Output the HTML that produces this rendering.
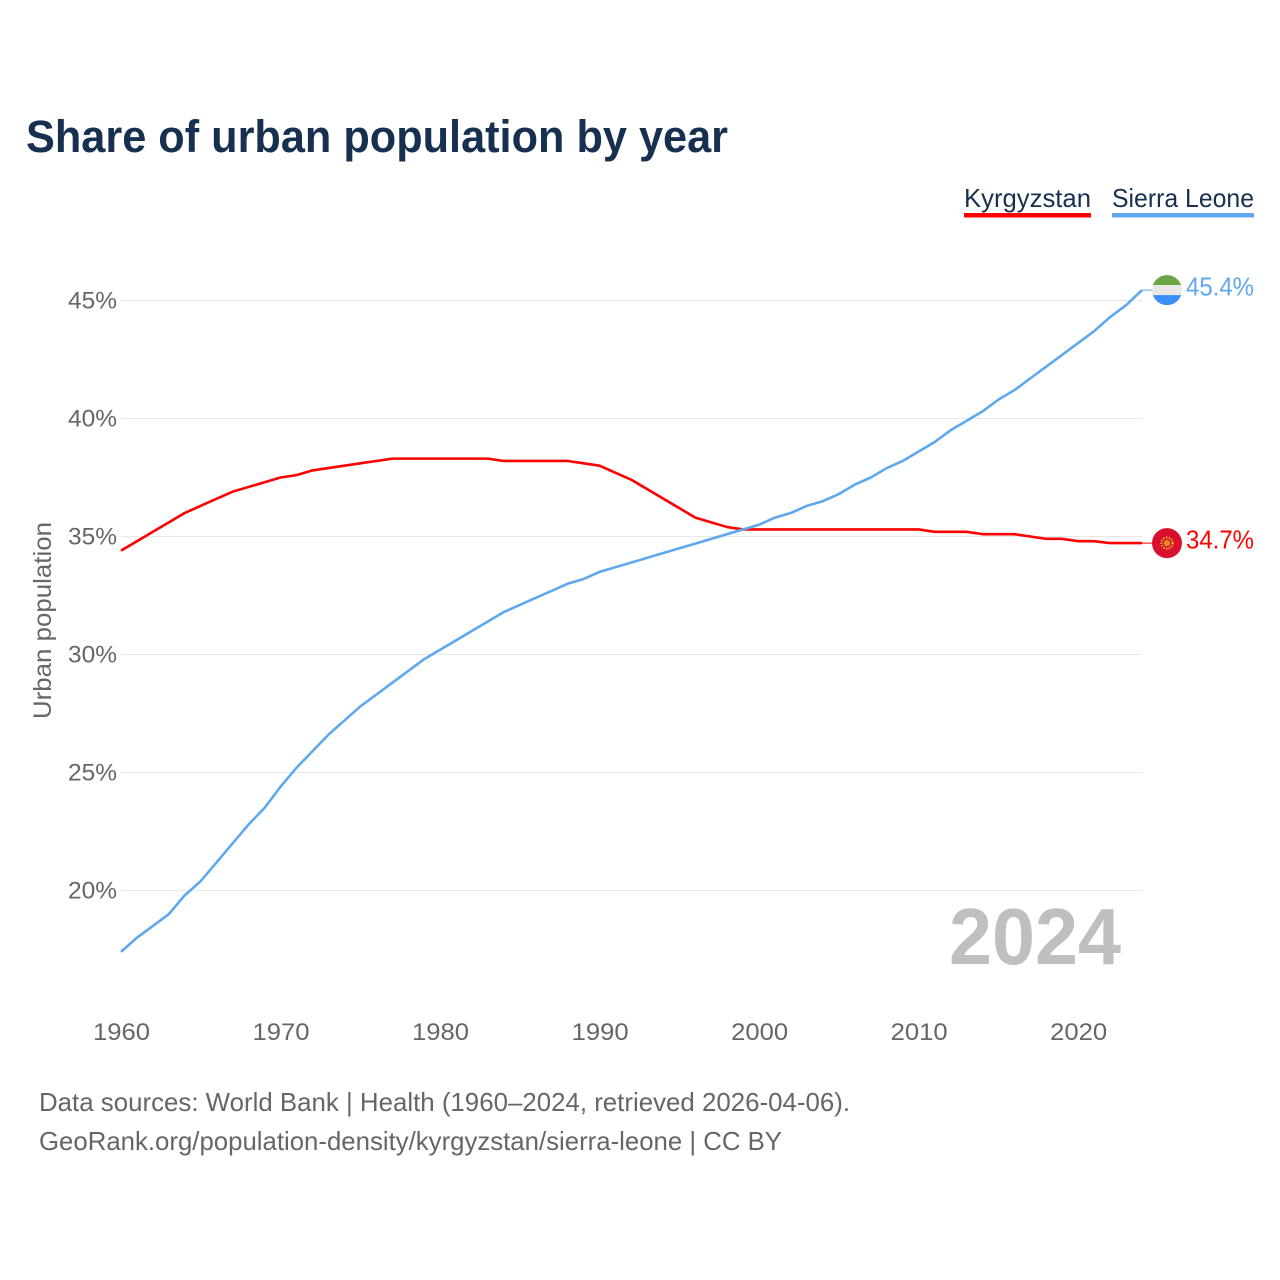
<!DOCTYPE html>
<html lang="en">
<head>
<meta charset="utf-8">
<title>Share of urban population by year</title>
<style>
html,body{margin:0;padding:0;background:#fff;width:1280px;height:1280px;overflow:hidden}
svg{display:block}
text{font-family:"Liberation Sans",sans-serif}
</style>
</head>
<body>
<svg id="chart" xmlns="http://www.w3.org/2000/svg" width="1280" height="1280" viewBox="0 0 1280 1280">
  <rect x="0" y="0" width="1280" height="1280" fill="#ffffff"/>
  <text x="26" y="152" font-size="45" font-weight="700" fill="#18304f" textLength="702" lengthAdjust="spacingAndGlyphs">Share of urban population by year</text>

  <g>
    <text x="964" y="207" font-size="26" fill="#18304f" textLength="127" lengthAdjust="spacingAndGlyphs">Kyrgyzstan</text>
    <rect x="964" y="213" width="127" height="4.5" fill="#ff0000"/>
  </g>
  <g>
    <text x="1112" y="207" font-size="26" fill="#18304f" textLength="142" lengthAdjust="spacingAndGlyphs">Sierra Leone</text>
    <rect x="1112" y="213" width="142" height="4.5" fill="#5fa8ee"/>
  </g>

  <g id="grid"></g>
  <g id="yTicks"></g>
  <g id="xTicks"></g>
  <text transform="translate(51,620.5) rotate(-90)" text-anchor="middle" font-size="25" fill="#666666" textLength="197" lengthAdjust="spacingAndGlyphs">Urban population</text>
  <text x="949" y="964" font-size="80" font-weight="700" fill="#bfbfbf" textLength="172" lengthAdjust="spacingAndGlyphs">2024</text>

  <g id="series"></g>

  <defs>
    <clipPath id="flagClip"><circle cx="0" cy="0" r="15"/></clipPath>
  </defs>

  <g id="flagSL">
    <g clip-path="url(#flagClip)">
      <rect x="-16" y="-16" width="32" height="11" fill="#6ea544"/>
      <rect x="-16" y="-5" width="32" height="10" fill="#e8e8e8"/>
      <rect x="-16" y="5" width="32" height="11" fill="#3a8ffa"/>
    </g>
  </g>
  <g id="flagKG">
    <circle cx="0" cy="0" r="15" fill="#d90f2e"/>
    <circle cx="0" cy="0" r="5.6" fill="none" stroke="#f2b32a" stroke-width="2.2" stroke-dasharray="1.4 1.4"/>
    <circle cx="0" cy="0" r="3.2" fill="#e8862a"/>
  </g>

  <text id="valueSL" x="1186" font-size="26" fill="#5fa8ee" textLength="68" lengthAdjust="spacingAndGlyphs"></text>
  <text id="valueKG" x="1186" font-size="26" fill="#ff0000" textLength="68" lengthAdjust="spacingAndGlyphs"></text>

  <text x="39" y="1111" font-size="26" fill="#666666" textLength="811" lengthAdjust="spacingAndGlyphs">Data sources: World Bank | Health (1960–2024, retrieved 2026-04-06).</text>
  <text x="39" y="1150" font-size="26" fill="#666666" textLength="743" lengthAdjust="spacingAndGlyphs">GeoRank.org/population-density/kyrgyzstan/sierra-leone | CC BY</text>
</svg>
<script>
const startYear = 1960;
const yTickValues = [45, 40, 35, 30, 25, 20];
const xTickValues = [1960, 1970, 1980, 1990, 2000, 2010, 2020];
const kyrgyzstan = [34.4,34.8,35.2,35.6,36.0,36.3,36.6,36.9,37.1,37.3,37.5,37.6,37.8,37.9,38.0,38.1,38.2,38.3,38.3,38.3,38.3,38.3,38.3,38.3,38.2,38.2,38.2,38.2,38.2,38.1,38.0,37.7,37.4,37.0,36.6,36.2,35.8,35.6,35.4,35.3,35.3,35.3,35.3,35.3,35.3,35.3,35.3,35.3,35.3,35.3,35.3,35.2,35.2,35.2,35.1,35.1,35.1,35.0,34.9,34.9,34.8,34.8,34.72,34.72,34.72];
const sierraLeone = [17.4,18.0,18.5,19.0,19.8,20.4,21.2,22.0,22.8,23.5,24.4,25.2,25.9,26.6,27.2,27.8,28.3,28.8,29.3,29.8,30.2,30.6,31.0,31.4,31.8,32.1,32.4,32.7,33.0,33.2,33.5,33.7,33.9,34.1,34.3,34.5,34.7,34.9,35.1,35.3,35.5,35.8,36.0,36.3,36.5,36.8,37.2,37.5,37.9,38.2,38.6,39.0,39.5,39.9,40.3,40.8,41.2,41.7,42.2,42.7,43.2,43.7,44.3,44.8,45.44];

const NS = 'http://www.w3.org/2000/svg';
const xScale = function (year) { return 121 + (year - 1960) * 15.953; };
const yScale = function (value) { return 890.5 - (value - 20) * 23.6; };

function make(tag, attrs, parent) {
  const el = document.createElementNS(NS, tag);
  Object.keys(attrs).forEach(function (k) { el.setAttribute(k, attrs[k]); });
  parent.appendChild(el);
  return el;
}

const gridGroup = document.getElementById('grid');
const yGroup = document.getElementById('yTicks');
yTickValues.forEach(function (v) {
  const line = make('line', { x1: 121, x2: 1142, y1: yScale(v), y2: yScale(v), stroke: '#e8e8e8', 'stroke-width': 1.1 }, gridGroup);
  
  
  const label = make('text', { x: 117, y: yScale(v) + 8, 'text-anchor': 'end', 'font-size': 24, fill: '#666666', textLength: 49, lengthAdjust: 'spacingAndGlyphs' }, yGroup);
  
  
  label.textContent = v + '%';
});

const xGroup = document.getElementById('xTicks');
xTickValues.forEach(function (yr) {
  const label = make('text', { x: xScale(yr) + 0.5, y: 1040, 'text-anchor': 'middle', 'font-size': 24, fill: '#666666', textLength: 57, lengthAdjust: 'spacingAndGlyphs' }, xGroup);
  
  
  label.textContent = yr;
});

function linePoints(values) {
  return values.map(function (v, i) {
    return xScale(startYear + i).toFixed(2) + ',' + yScale(v).toFixed(2);
  }).join(' ');
}

const seriesGroup = document.getElementById('series');

const redLine = make('polyline', { points: linePoints(kyrgyzstan), fill: 'none', stroke: '#ff0000', 'stroke-width': 2.6, 'stroke-linejoin': 'round' }, seriesGroup);



const blueLine = make('polyline', { points: linePoints(sierraLeone), fill: 'none', stroke: '#5fa8ee', 'stroke-width': 2.6, 'stroke-linejoin': 'round' }, seriesGroup);



const lastKG = kyrgyzstan[kyrgyzstan.length - 1];
const lastSL = sierraLeone[sierraLeone.length - 1];

const redLead = make('line', { x1: xScale(2024), x2: 1152, y1: yScale(lastKG), y2: yScale(lastKG), stroke: '#ff0000', 'stroke-width': 1 }, seriesGroup);



const blueLead = make('line', { x1: xScale(2024), x2: 1152, y1: yScale(lastSL), y2: yScale(lastSL), stroke: '#5fa8ee', 'stroke-width': 1 }, seriesGroup);



document.getElementById('flagSL').setAttribute('transform', 'translate(1167,' + yScale(lastSL) + ')');
document.getElementById('flagKG').setAttribute('transform', 'translate(1167,' + yScale(lastKG) + ')');

const valueSL = document.getElementById('valueSL');
valueSL.setAttribute('y', yScale(lastSL) + 5.5);
valueSL.textContent = lastSL.toFixed(1) + '%';

const valueKG = document.getElementById('valueKG');
valueKG.setAttribute('y', yScale(lastKG) + 5.5);
valueKG.textContent = lastKG.toFixed(1) + '%';
</script>
</body>
</html>
